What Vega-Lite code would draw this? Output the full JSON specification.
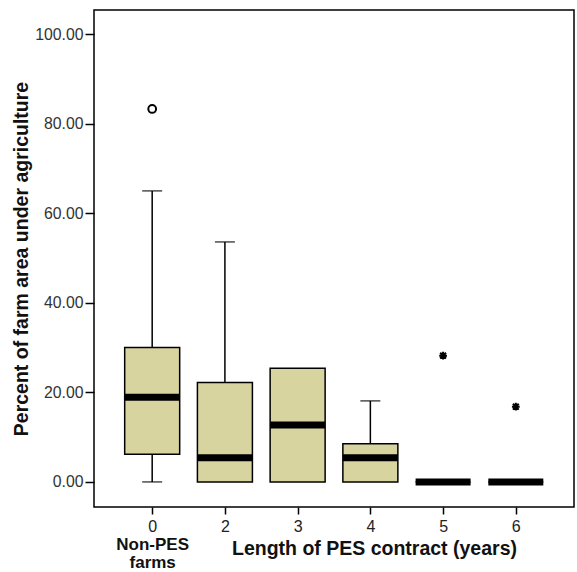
{
  "$schema": "https://vega.github.io/schema/vega-lite/v6.json",
  "width": 480,
  "height": 497,
  "autosize": {"type": "none"},
  "padding": {"left": 94, "top": 10, "right": 3, "bottom": 65},
  "config": {
    "font": "Liberation Sans",
    "view": {"stroke": "black", "strokeWidth": 1.5},
    "axisY": {"format": ".2f", "labelFontSize": 15.8, "labelColor": "#333", "tickSize": 9, "tickColor": "black", "tickWidth": 1.5, "labelPadding": 2, "domain": false, "grid": false, "titleFontSize": 19.5, "titleFontWeight": "bold", "titleColor": "#111", "titlePadding": 3}
  },
  "datasets": {
    "summary": [
      {"cat": "0", "lo": 0, "q1": 6.2, "med": 18.9, "q3": 30.0, "hi": 65.0},
      {"cat": "2", "lo": 0, "q1": 0, "med": 5.4, "q3": 22.2, "hi": 53.6},
      {"cat": "3", "lo": 0, "q1": 0, "med": 12.7, "q3": 25.4, "hi": 25.4},
      {"cat": "4", "lo": 0, "q1": 0, "med": 5.4, "q3": 8.5, "hi": 18.1},
      {"cat": "5", "lo": 0, "q1": 0, "med": 0, "q3": 0, "hi": 0},
      {"cat": "6", "lo": 0, "q1": 0, "med": 0, "q3": 0, "hi": 0}
    ],
    "outliers": [
      {"cat": "0", "v": 83.3, "kind": "circle"},
      {"cat": "5", "v": 28.2, "kind": "star"},
      {"cat": "6", "v": 16.8, "kind": "star"}
    ]
  },
  "layer": [
    {
      "data": {"name": "summary"},
      "transform": [{"filter": "datum.hi > datum.q3"}],
      "mark": {"type": "rule", "color": "black", "strokeWidth": 1.5},
      "encoding": {
        "x": {"field": "cat", "type": "ordinal", "scale": {"type": "point", "padding": 0.8}, "axis": null},
        "y": {"field": "q3", "type": "quantitative", "scale": {"domain": [-5.6, 105.4], "nice": false, "zero": false}, "axis": {"title": "Percent of farm area under agriculture", "values": [0, 20, 40, 60, 80, 100]}},
        "y2": {"field": "hi"}
      }
    },
    {
      "data": {"name": "summary"},
      "transform": [{"filter": "datum.hi > datum.q3"}],
      "mark": {"type": "tick", "color": "black", "thickness": 1.5, "size": 20},
      "encoding": {
        "x": {"field": "cat", "type": "ordinal", "axis": null},
        "y": {"field": "hi", "type": "quantitative", "scale": {"domain": [-5.6, 105.4], "nice": false, "zero": false}, "axis": {"title": "Percent of farm area under agriculture", "values": [0, 20, 40, 60, 80, 100]}}
      }
    },
    {
      "data": {"name": "summary"},
      "transform": [{"filter": "datum.lo < datum.q1"}],
      "mark": {"type": "rule", "color": "black", "strokeWidth": 1.5},
      "encoding": {
        "x": {"field": "cat", "type": "ordinal", "axis": null},
        "y": {"field": "lo", "type": "quantitative", "scale": {"domain": [-5.6, 105.4], "nice": false, "zero": false}, "axis": {"title": "Percent of farm area under agriculture", "values": [0, 20, 40, 60, 80, 100]}},
        "y2": {"field": "q1"}
      }
    },
    {
      "data": {"name": "summary"},
      "transform": [{"filter": "datum.lo < datum.q1"}],
      "mark": {"type": "tick", "color": "black", "thickness": 1.5, "size": 20},
      "encoding": {
        "x": {"field": "cat", "type": "ordinal", "axis": null},
        "y": {"field": "lo", "type": "quantitative", "scale": {"domain": [-5.6, 105.4], "nice": false, "zero": false}, "axis": {"title": "Percent of farm area under agriculture", "values": [0, 20, 40, 60, 80, 100]}}
      }
    },
    {
      "data": {"name": "summary"},
      "mark": {"type": "bar", "width": 55, "fill": "#d8d4a0", "stroke": "black", "strokeWidth": 1.5},
      "encoding": {
        "x": {"field": "cat", "type": "ordinal", "axis": {"orient": "bottom", "title": null, "labelAngle": 0, "labelFontSize": 16, "labelColor": "#222", "tickSize": 7, "tickColor": "black", "tickWidth": 1.5, "labelPadding": 4, "domain": false, "grid": false, "labelOverlap": false}},
        "y": {"field": "q1", "type": "quantitative", "scale": {"domain": [-5.6, 105.4], "nice": false, "zero": false}, "axis": {"title": "Percent of farm area under agriculture", "values": [0, 20, 40, 60, 80, 100]}},
        "y2": {"field": "q3"}
      }
    },
    {
      "data": {"name": "summary"},
      "mark": {"type": "tick", "color": "black", "thickness": 7, "size": 55, "opacity": 1},
      "encoding": {
        "x": {"field": "cat", "type": "ordinal", "axis": {"orient": "bottom", "labelExpr": "datum.value == '0' ? ['Non-PES','farms'] : ''", "labelFontSize": 17, "labelFontWeight": "bold", "labelLineHeight": 18, "labelColor": "#111", "ticks": false, "tickSize": 0, "labelPadding": 29, "domain": false, "grid": false, "labelAngle": 0, "labelOverlap": false, "title": "Length of PES contract (years)", "titleFontSize": 19.5, "titleFontWeight": "bold", "titleColor": "#111", "titleX": 280, "titleY": 47, "titleAlign": "center", "titleBaseline": "alphabetic"}},
        "y": {"field": "med", "type": "quantitative", "scale": {"domain": [-5.6, 105.4], "nice": false, "zero": false}, "axis": {"title": "Percent of farm area under agriculture", "values": [0, 20, 40, 60, 80, 100]}}
      }
    },
    {
      "data": {"name": "outliers"},
      "mark": {"type": "point", "filled": false, "stroke": "black", "strokeWidth": 2, "size": 60, "opacity": 1},
      "encoding": {
        "x": {"field": "cat", "type": "ordinal", "axis": null},
        "y": {"field": "v", "type": "quantitative", "scale": {"domain": [-5.6, 105.4], "nice": false, "zero": false}, "axis": {"title": "Percent of farm area under agriculture", "values": [0, 20, 40, 60, 80, 100]}},
        "shape": {"field": "kind", "type": "nominal", "scale": {"domain": ["circle", "star"], "range": ["circle", "M-1,0L1,0M0,-1L0,1M-0.75,-0.75L0.75,0.75M-0.75,0.75L0.75,-0.75"]}, "legend": null}
      }
    }
  ],
  "resolve": {"axis": {"x": "independent"}}
}
